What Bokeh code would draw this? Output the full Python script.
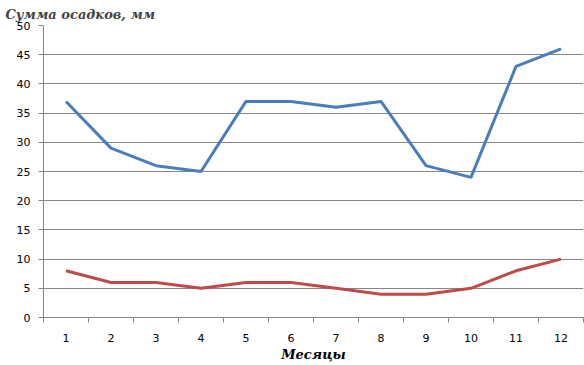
from bokeh.plotting import figure
from bokeh.models import FixedTicker, Range1d, Title
from bokeh.embed import file_html
from bokeh.resources import INLINE

months = list(range(1, 13))
series_blue = [37, 29, 26, 25, 37, 37, 36, 37, 26, 24, 43, 46]
series_red = [8, 6, 6, 5, 6, 6, 5, 4, 4, 5, 8, 10]
y_ticks = list(range(0, 51, 5))
month_labels = {m: str(m) for m in months}

GRID = "#868686"

p = figure(width=584, height=365, output_backend="svg", toolbar_location=None,
           x_range=Range1d(0.5, 12.5), y_range=Range1d(0, 50),
           min_border_left=43, min_border_right=1, min_border_top=25, min_border_bottom=48,
           title="Сумма осадков, мм")
p.outline_line_color = None
p.background_fill_color = "white"

p.title.text_font = "DejaVu Serif"
p.title.text_font_style = "bold italic"
p.title.text_font_size = "13px"
p.title.align = "left"
p.title.offset = -38
p.title.standoff = 8

p.line(months, series_blue, line_color="#4a7ebb", line_width=3)
p.line(months, series_red, line_color="#be4b48", line_width=3)

xa = p.xaxis[0]
xa.ticker = FixedTicker(ticks=months, minor_ticks=[m + 0.5 for m in range(0, 13)])
xa.major_label_overrides = month_labels
xa.major_tick_out = 0
xa.major_tick_in = 0
xa.minor_tick_out = 5
xa.minor_tick_in = 0
xa.minor_tick_line_color = GRID
xa.axis_line_color = GRID
xa.major_label_text_font = "DejaVu Sans"
xa.major_label_text_font_size = "11px"
xa.major_label_text_color = "black"
xa.major_label_standoff = 11

xtitle = Title(text="Месяцы", align="center", text_font="DejaVu Serif",
               text_font_style="bold italic", text_font_size="13px",
               text_color="black", standoff=0)
p.add_layout(xtitle, "below")

ya = p.yaxis[0]
ya.ticker = FixedTicker(ticks=y_ticks, minor_ticks=[])
ya.major_tick_out = 5
ya.major_tick_in = 0
ya.major_tick_line_color = GRID
ya.axis_line_color = GRID
ya.major_label_text_font = "DejaVu Sans"
ya.major_label_text_font_size = "11px"
ya.major_label_text_color = "black"
ya.major_label_standoff = 8

p.xgrid.visible = False
p.ygrid.grid_line_color = GRID
p.ygrid.grid_line_width = 1

open("out.html", "w").write(file_html(p, INLINE))
